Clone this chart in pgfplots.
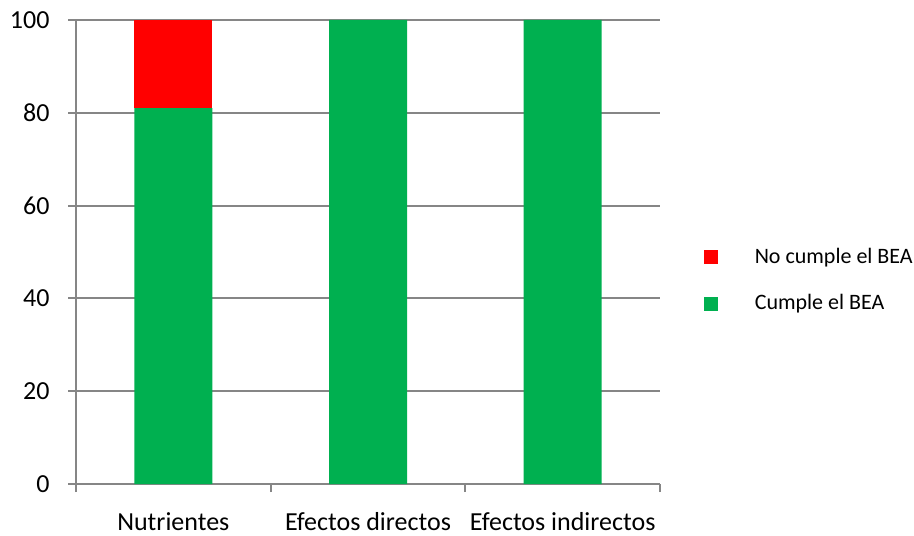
\documentclass[border=0pt]{standalone}
\usepackage{fontspec}
\setmainfont{Carlito}
\usepackage{pgfplots}
\pgfplotsset{compat=1.18}
\definecolor{nored}{RGB}{255,0,0}
\definecolor{sigreen}{RGB}{0,176,80}
\definecolor{axgray}{RGB}{134,134,134}

\begin{document}
\begin{tikzpicture}
\useasboundingbox (-38pt,-25.5pt) rectangle (419pt,242pt);
\begin{axis}[
    at={(0,0)}, anchor=south west,
    width=292pt, height=232pt, scale only axis,
    xmin=0, xmax=3, ymin=0, ymax=100,
    ybar stacked, bar width=39pt,
    xtick={0,1,2,3}, xticklabels={,,,},
    extra x ticks={0.5,1.5,2.5},
    extra x tick labels={Nutrientes, Efectos directos, Efectos indirectos},
    extra x tick style={major tick length=0pt, grid=none},
    ytick={0,20,...,100},
    ymajorgrids,
    major grid style={axgray, line width=1pt},
    axis x line*=bottom, axis y line*=left,
    axis line style={axgray, line width=1pt, -},
    tick align=outside, major tick length=4pt,
    tick style={axgray, line width=1pt},
    ticklabel style={font=\fontsize{13}{15.6}\selectfont, black},
    /pgf/number format/assume math mode=true,
    yticklabel style={anchor=east, xshift=-5.7pt},
    xticklabel style={anchor=base, yshift=-23pt},
    reverse legend,
    legend style={at={(1.064,0.4386)}, anchor=west, draw=none, fill=none,
        font=\fontsize{11}{13.2}\selectfont, row sep=10pt,
        /tikz/every odd column/.append style={column sep=16.5pt}},
    legend cell align=left,
]
\addplot[fill=sigreen, draw=none,
    legend image code/.code={\fill[sigreen] (0pt,-3.5pt) rectangle (7pt,3.5pt);}]
    coordinates {(0.5,81) (1.5,100) (2.5,100)};
\addplot[fill=nored, draw=none,
    legend image code/.code={\fill[nored] (0pt,-3.5pt) rectangle (7pt,3.5pt);}]
    coordinates {(0.5,19) (1.5,0) (2.5,0)};
\legend{Cumple el BEA, No cumple el BEA}
\end{axis}
\end{tikzpicture}
\end{document}
